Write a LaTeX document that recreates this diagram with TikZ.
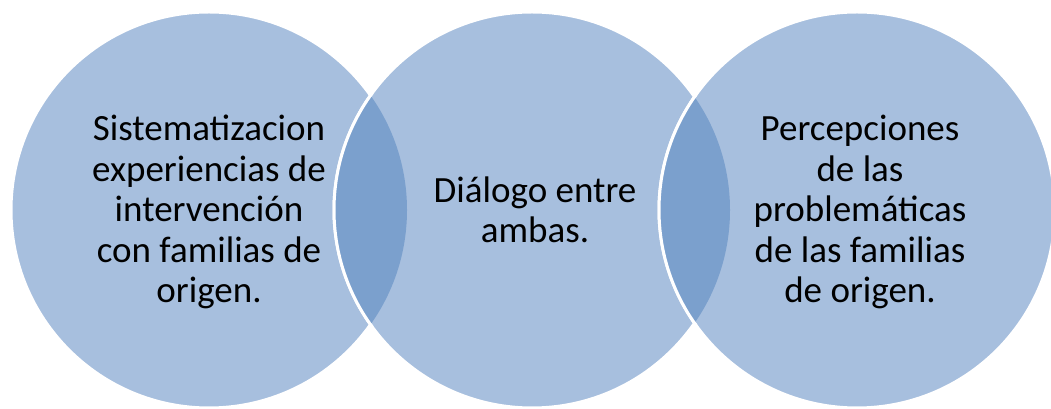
\documentclass[tikz,border=0pt]{standalone}
\usepackage{fontspec}
\setmainfont{Carlito}
\definecolor{circfill}{RGB}{167,191,222}
\definecolor{lensfill}{RGB}{123,160,205}
\begin{document}
\begin{tikzpicture}[x=1pt,y=1pt,
  circ/.style={fill=circfill,draw=white,line width=3pt},
  rim/.style={draw=white,line width=3pt},
  label/.style={align=center,inner sep=0pt,font=\fontsize{37}{40.5}\selectfont,text=black}]
\useasboundingbox (0,0) rectangle (1051,409);
\clip (0,0) rectangle (1051,409);
\def\R{198}
\coordinate (c1) at (209,199);
\coordinate (c2) at (532,199);
\coordinate (c3) at (857,199);
% circles and lenses
\path[circ] (c1) circle (\R);
\path[circ] (c2) circle (\R);
\begin{scope}
  \clip (c1) circle (\R);
  \fill[lensfill] (c2) circle (\R);
\end{scope}
\begin{scope}
  \clip (c1) circle (\R+3);
  \path[rim] (c2) circle (\R);
\end{scope}
\path[circ] (c3) circle (\R);
\begin{scope}
  \clip (c2) circle (\R);
  \fill[lensfill] (c3) circle (\R);
\end{scope}
\begin{scope}
  \clip (c2) circle (\R+3);
  \path[rim] (c3) circle (\R);
\end{scope}
% texts
\node[label] (t1) at (209,197) {Sistematizacion\\experiencias de\\intervención\\con familias de\\origen.};
\node[label] (t2) at (535,199) {Diálogo entre\\ambas.};
\node[label] (t3) at (860,197) {Percepciones\\de las\\problemáticas\\de las familias\\de origen.};
\end{tikzpicture}
\end{document}
